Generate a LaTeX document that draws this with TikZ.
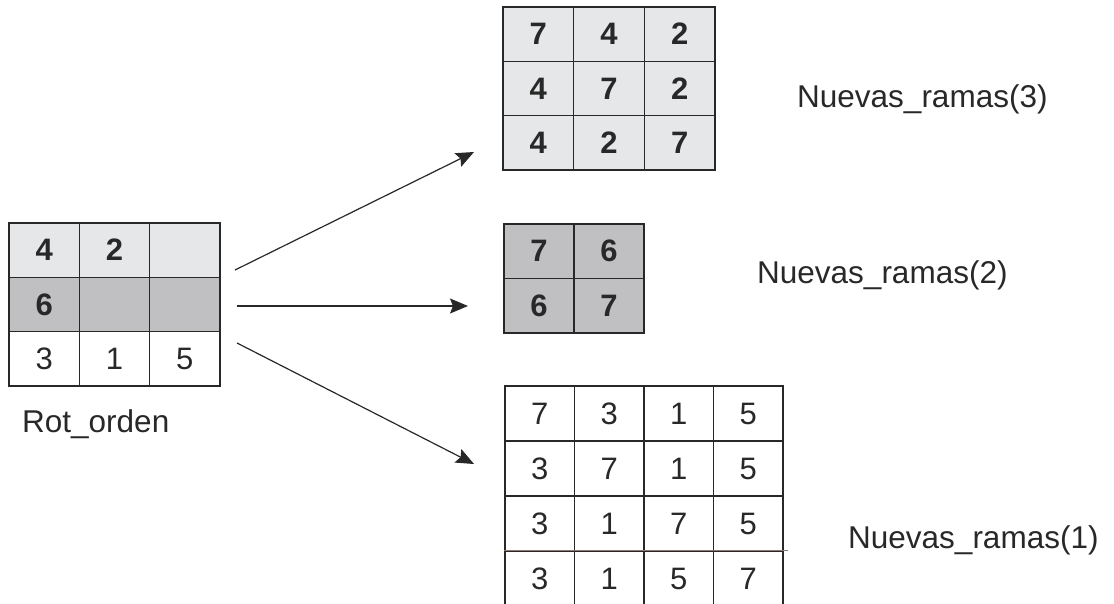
\documentclass[tikz,border=0pt]{standalone}
\usepackage{fontspec}
\setmainfont{Liberation Sans}
\usetikzlibrary{arrows.meta}
\definecolor{lightcell}{RGB}{230,231,233}
\definecolor{darkcell}{RGB}{192,192,194}
\definecolor{gridline}{RGB}{40,40,40}
\definecolor{brownline}{RGB}{140,120,110}

\begin{document}
\begin{tikzpicture}[x=1pt,y=-1pt,
  cell/.style={draw=gridline,line width=1.3pt,inner sep=0pt,text=gridline,
    font=\fontsize{31}{33}\selectfont},
  bcell/.style={cell,font=\fontsize{31}{33}\selectfont\bfseries},
  tag/.style={anchor=base west,inner sep=0pt,text=gridline,
    font=\fontsize{31.5}{36}\selectfont},
  >={Stealth[length=18pt,width=15pt,inset=3pt]}]
  \useasboundingbox (0,0) rectangle (1114,603);

  % Rot_orden
  \foreach \v [count=\c] in {4,2,{}}
    \node[bcell,fill=lightcell,minimum width=70.3pt,minimum height=54.3pt] (rot-1-\c)
      at ({9+70.3*(\c-0.5)},{223+54.3*0.5}) {\v};
  \foreach \v [count=\c] in {6,{},{}}
    \node[bcell,fill=darkcell,minimum width=70.3pt,minimum height=54.3pt] (rot-2-\c)
      at ({9+70.3*(\c-0.5)},{223+54.3*1.5}) {\v};
  \foreach \v [count=\c] in {3,1,5}
    \node[cell,fill=white,minimum width=70.3pt,minimum height=54.3pt] (rot-3-\c)
      at ({9+70.3*(\c-0.5)},{223+54.3*2.5}) {\v};
  \node[tag] (lab-rot) at (22,432) {Rot\_orden};

  % Nuevas_ramas(3)
  \foreach \fila [count=\r] in {{7,4,2},{4,7,2},{4,2,7}}
    \foreach \v [count=\c] in \fila
      \node[bcell,fill=lightcell,minimum width=70.7pt,minimum height=54.3pt] (tres-\r-\c)
        at ({503+70.7*(\c-0.5)},{7+54.3*(\r-0.5)}) {\v};
  \node[tag] (lab-3) at (797,107) {Nuevas\_ramas(3)};

  % Nuevas_ramas(2)
  \foreach \fila [count=\r] in {{7,6},{6,7}}
    \foreach \v [count=\c] in \fila
      \node[bcell,fill=darkcell,minimum width=70pt,minimum height=54.5pt] (dos-\r-\c)
        at ({504+70*(\c-0.5)},{224+54.5*(\r-0.5)}) {\v};
  \node[tag] (lab-2) at (757,283) {Nuevas\_ramas(2)};

  % Nuevas_ramas(1)
  \foreach \fila [count=\r] in {{7,3,1,5},{3,7,1,5},{3,1,7,5},{3,1,5,7}}
    \foreach \v [count=\c] in \fila
      \node[cell,minimum width=69.5pt,minimum height=55pt] (uno-\r-\c)
        at ({505+69.5*(\c-0.5)},{386+55*(\r-0.5)}) {\v};
  \draw[brownline,line width=1.3pt] (uno-4-1.north west) -- ([xshift=4pt]uno-4-4.north east);
  \node[tag] (lab-1) at (848,548) {Nuevas\_ramas(1)};

  % flechas
  \coordinate (sal-a) at (235,270);
  \coordinate (sal-b) at (237,306);
  \coordinate (sal-c) at (237,343);
  \coordinate (lleg-a) at (474,152);
  \coordinate (lleg-b) at (468,306);
  \coordinate (lleg-c) at (474,464);
  \draw[->,line width=1.2pt,gridline] (sal-a) -- (lleg-a);
  \draw[->,line width=1.2pt,gridline] (sal-b) -- (lleg-b);
  \draw[->,line width=1.2pt,gridline] (sal-c) -- (lleg-c);
\end{tikzpicture}
\end{document}
